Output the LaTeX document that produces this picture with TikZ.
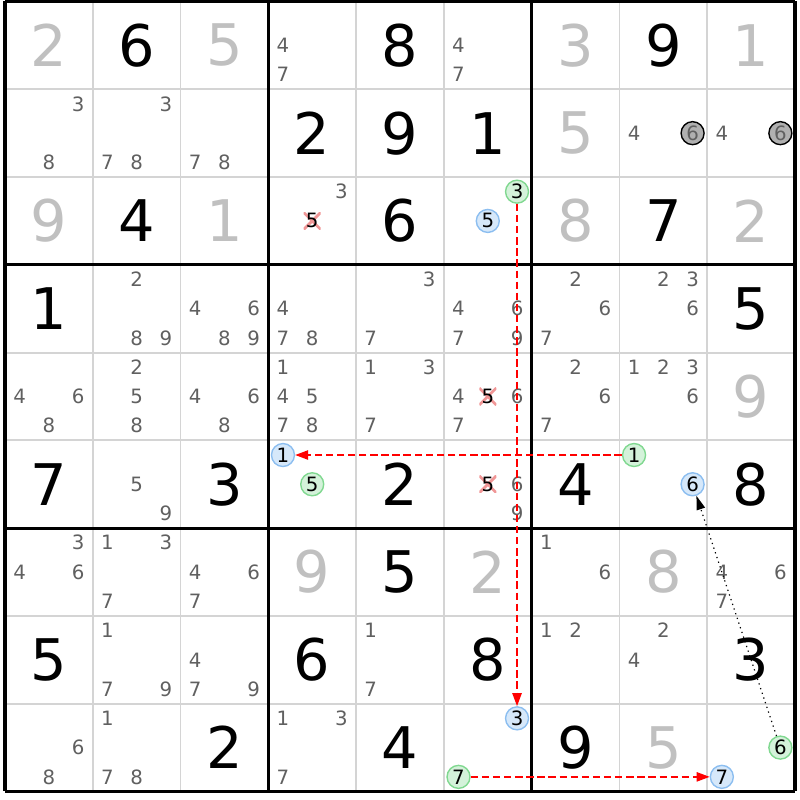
\documentclass[tikz,border=0pt]{standalone}
\usepackage{fontspec}
\usepackage{tikz}
\usetikzlibrary{arrows.meta}
\newfontfamily\digfont{DejaVu Sans}
\newcommand{\bigdig}{\digfont\fontsize{18.6pt}{20pt}\selectfont}
\newcommand{\smalldig}{\digfont\fontsize{6.4pt}{7pt}\selectfont}
\definecolor{solvgray}{RGB}{192,192,192}
\definecolor{candgray}{RGB}{96,96,96}
\definecolor{gridgray}{RGB}{212,212,212}
\definecolor{bluefill}{RGB}{214,232,250}
\definecolor{bluering}{RGB}{140,190,240}
\definecolor{greenfill}{RGB}{212,242,218}
\definecolor{greenring}{RGB}{128,216,144}
\definecolor{graycirc}{RGB}{176,176,176}
\definecolor{xred}{RGB}{240,150,150}

\tikzset{
	given/.style={font=\bigdig, text=black},
	solved/.style={font=\bigdig, text=solvgray},
	cand/.style={font=\smalldig, text=candgray, inner sep=0pt},
	ring/.style={cand, circle, minimum size=0.262cm, line width=0.45pt, text=black},
	bluec/.style={ring, draw=bluering, fill=bluefill},
	greenc/.style={ring, draw=greenring, fill=greenfill},
	grayc/.style={ring, draw=black, fill=graycirc, text=candgray},
	crossed/.style={cand, text=black, minimum size=0.194cm,
		path picture={\draw[xred,line width=0.9pt]
			(path picture bounding box.south west) -- (path picture bounding box.north east)
			(path picture bounding box.north west) -- (path picture bounding box.south east);}},
	link/.style={red, line width=0.5pt, dash pattern=on 2.4pt off 1.2pt, -{Triangle[length=4.2pt,width=3pt]}},
	chain/.style={black, line width=0.4pt, dash pattern=on 0.4pt off 1.2pt, -{Triangle[length=4.5pt,width=2.8pt]}}
}

% row, column, digit
\newcommand{\givn}[3]{\node[given] (v#1#2) at ({#2-0.5},{-#1+0.5}) {#3};}
\newcommand{\slvd}[3]{\node[solved] (v#1#2) at ({#2-0.5},{-#1+0.5}) {#3};}
\newcommand{\cnd}[4][cand]{\node[#1] (k#2#3#4) at ({#3-1+(mod(#4-1,3)+0.5)/3},{-#2+1-(int((#4-1)/3)+0.5)/3}) {#4};}
\newcommand{\cands}[3]{\foreach \d in {#3} {\cnd{#1}{#2}{\d}}}

\begin{document}
\begin{tikzpicture}
			\useasboundingbox (-0.057,0.017) rectangle (9.057,-9.097);

			\foreach \i in {1,2,4,5,7,8} {
				\draw[gridgray, line width=0.6pt] (\i,0) -- (\i,-9);
				\draw[gridgray, line width=0.6pt] (0,-\i) -- (9,-\i);
			}
			\foreach \i in {0,3,6,9} {
				\draw[line width=1pt] (\i,0) -- (\i,-9);
				\draw[line width=1pt] (0,-\i) -- (9,-\i);
			}

			\slvd{1}{1}{2} \givn{1}{2}{6} \slvd{1}{3}{5}
			\cands{1}{4}{4,7} \givn{1}{5}{8} \cands{1}{6}{4,7}
			\slvd{1}{7}{3} \givn{1}{8}{9} \slvd{1}{9}{1}

			\cands{2}{1}{3,8} \cands{2}{2}{3,7,8} \cands{2}{3}{7,8}
			\givn{2}{4}{2} \givn{2}{5}{9} \givn{2}{6}{1}
			\slvd{2}{7}{5} \cands{2}{8}{4} \cnd[grayc]{2}{8}{6} \cands{2}{9}{4} \cnd[grayc]{2}{9}{6}

			\slvd{3}{1}{9} \givn{3}{2}{4} \slvd{3}{3}{1}
			\cands{3}{4}{3} \cnd[crossed]{3}{4}{5} \givn{3}{5}{6} \cnd[greenc]{3}{6}{3} \cnd[bluec]{3}{6}{5}
			\slvd{3}{7}{8} \givn{3}{8}{7} \slvd{3}{9}{2}

			\givn{4}{1}{1} \cands{4}{2}{2,8,9} \cands{4}{3}{4,6,8,9}
			\cands{4}{4}{4,7,8} \cands{4}{5}{3,7} \cands{4}{6}{4,6,7,9}
			\cands{4}{7}{2,6,7} \cands{4}{8}{2,3,6} \givn{4}{9}{5}

			\cands{5}{1}{4,6,8} \cands{5}{2}{2,5,8} \cands{5}{3}{4,6,8}
			\cands{5}{4}{1,4,5,7,8} \cands{5}{5}{1,3,7} \cands{5}{6}{4,6,7} \cnd[crossed]{5}{6}{5}
			\cands{5}{7}{2,6,7} \cands{5}{8}{1,2,3,6} \slvd{5}{9}{9}

			\givn{6}{1}{7} \cands{6}{2}{5,9} \givn{6}{3}{3}
			\cnd[bluec]{6}{4}{1} \cnd[greenc]{6}{4}{5} \givn{6}{5}{2} \cnd[crossed]{6}{6}{5} \cands{6}{6}{6,9}
			\givn{6}{7}{4} \cnd[greenc]{6}{8}{1} \cnd[bluec]{6}{8}{6} \givn{6}{9}{8}

			\cands{7}{1}{3,4,6} \cands{7}{2}{1,3,7} \cands{7}{3}{4,6,7}
			\slvd{7}{4}{9} \givn{7}{5}{5} \slvd{7}{6}{2}
			\cands{7}{7}{1,6} \slvd{7}{8}{8} \cands{7}{9}{4,6,7}

			\givn{8}{1}{5} \cands{8}{2}{1,7,9} \cands{8}{3}{4,7,9}
			\givn{8}{4}{6} \cands{8}{5}{1,7} \givn{8}{6}{8}
			\cands{8}{7}{1,2} \cands{8}{8}{2,4} \givn{8}{9}{3}

			\cands{9}{1}{6,8} \cands{9}{2}{1,7,8} \givn{9}{3}{2}
			\cands{9}{4}{1,3,7} \givn{9}{5}{4} \cnd[bluec]{9}{6}{3} \cnd[greenc]{9}{6}{7}
			\givn{9}{7}{9} \slvd{9}{8}{5} \cnd[greenc]{9}{9}{6} \cnd[bluec]{9}{9}{7}

			% links
			\draw[link] (k363) -- (k963);
			\draw[link] (k681) -- (k641);
			\draw[link] (k967) -- (k997);
			\draw[chain] (k996) -- (k686);
		\end{tikzpicture}
\end{document}
